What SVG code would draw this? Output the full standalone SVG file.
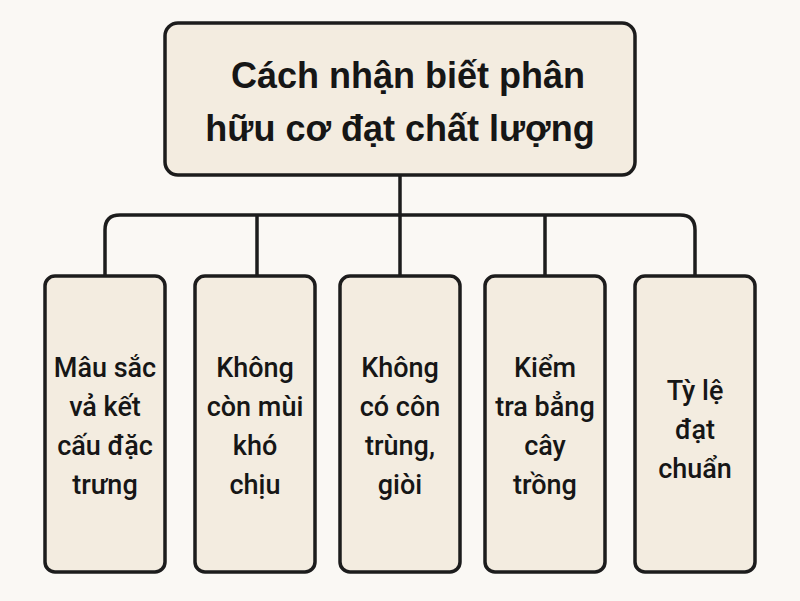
<svg xmlns="http://www.w3.org/2000/svg" width="800" height="601" viewBox="0 0 800 601">
<style>
.b{fill:#f3ece0;stroke:#1c1c1c;stroke-width:3.5}
.t{font-family:Roboto,"Liberation Sans",Arial,sans-serif;font-weight:500;font-size:27px;fill:#161616;text-anchor:middle}
.h{font-family:"Liberation Sans",Arial,sans-serif;font-weight:bold;font-size:36px;fill:#161616;text-anchor:middle}
.c{fill:none;stroke:#1c1c1c;stroke-width:3.5}
</style>
<rect width="800" height="601" fill="#faf8f4"/>
<g id="connectors">
<path class="c" d="M400 175V215M105 275V230Q105 215 120 215H680Q695 215 695 230V275M257 215V275M400 215V275M545 215V275"/>
</g>
<g id="root"><rect class="b" x="165" y="23" width="470" height="152" rx="13"/>
<text class="h" x="408" y="88">Cách nhận biết phân</text><text class="h" x="400" y="141">hữu cơ đạt chất lượng</text></g>
<g id="n1"><rect class="b" x="45" y="276" width="120" height="296" rx="10"/>
<text class="t" x="105" y="377">Mâu sắc</text><text class="t" x="105" y="416">vả kết</text><text class="t" x="105" y="455">cấu đặc</text><text class="t" x="105" y="494">trưng</text></g>
<g id="n2"><rect class="b" x="195" y="276" width="120" height="296" rx="10"/>
<text class="t" x="255" y="377">Không</text><text class="t" x="255" y="416">còn mùi</text><text class="t" x="255" y="455">khó</text><text class="t" x="255" y="494">chịu</text></g>
<g id="n3"><rect class="b" x="340" y="276" width="120" height="296" rx="10"/>
<text class="t" x="400" y="377">Không</text><text class="t" x="400" y="416">có côn</text><text class="t" x="400" y="455">trùng,</text><text class="t" x="400" y="494">giòi</text></g>
<g id="n4"><rect class="b" x="485" y="276" width="120" height="296" rx="10"/>
<text class="t" x="545" y="377">Kiểm</text><text class="t" x="545" y="416">tra bẳng</text><text class="t" x="545" y="455">cây</text><text class="t" x="545" y="494">trồng</text></g>
<g id="n5"><rect class="b" x="635" y="276" width="120" height="296" rx="10"/>
<text class="t" x="695" y="400">Tỳ lệ</text><text class="t" x="695" y="439">đạt</text><text class="t" x="695" y="478">chuẩn</text></g>
</svg>
